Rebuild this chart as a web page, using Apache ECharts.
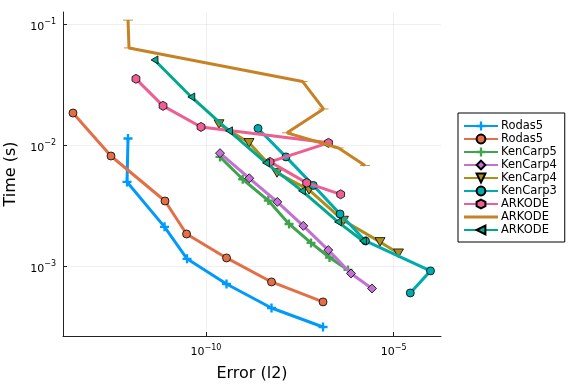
<!DOCTYPE html>
<html><head><meta charset="utf-8">
<script src="https://cdn.jsdelivr.net/npm/echarts@6/dist/echarts.min.js"></script>
<style>html,body{margin:0;padding:0;background:#fff}#c{width:576px;height:384px}</style>
</head><body><div id="c"></div>
<script>
// ---- data (error l2, time s) ----
const seriesNames = ['Rodas5','Rodas5','KenCarp5','KenCarp4','KenCarp4','KenCarp3','ARKODE','ARKODE','ARKODE'];

const rodas5aErr  = [8.36e-13, 7.87e-13, 7.85e-12, 3.12e-11, 3.52e-10, 5.56e-9, 1.31e-7];
const rodas5aTime = [1.14e-2, 5.00e-3, 2.13e-3, 1.16e-3, 7.19e-4, 4.56e-4, 3.18e-4];

const rodas5bErr  = [2.86e-14, 2.94e-13, 8.09e-12, 3.03e-11, 3.52e-10, 5.56e-9, 1.31e-7];
const rodas5bTime = [1.85e-2, 8.18e-3, 3.48e-3, 1.86e-3, 1.18e-3, 7.48e-4, 5.12e-4];

const kencarp5Err  = [2.36e-10, 9.51e-10, 4.57e-9, 1.63e-8, 6.27e-8, 1.95e-7, 6.07e-7];
const kencarp5Time = [8.04e-3, 5.26e-3, 3.51e-3, 2.25e-3, 1.57e-3, 1.19e-3, 9.40e-4];

const kencarp4aErr  = [2.36e-10, 1.42e-9, 7.93e-9, 3.91e-8, 1.81e-7, 7.29e-7, 2.64e-6];
const kencarp4aTime = [8.63e-3, 5.36e-3, 3.42e-3, 2.17e-3, 1.37e-3, 8.79e-4, 6.61e-4];

const kencarp4bErr  = [2.22e-10, 1.40e-9, 7.78e-9, 5.55e-8, 4.60e-7, 4.32e-6, 1.34e-5];
const kencarp4bTime = [1.50e-2, 1.05e-2, 5.93e-3, 4.30e-3, 2.40e-3, 1.60e-3, 1.29e-3];

const kencarp3Err  = [2.43e-9, 1.35e-8, 7.21e-8, 3.72e-7, 1.77e-6, 9.55e-5, 2.77e-5];
const kencarp3Time = [1.38e-2, 8.04e-3, 4.68e-3, 2.72e-3, 1.63e-3, 9.23e-4, 6.07e-4];

const arkodeAErr  = [1.36e-12, 7.16e-12, 7.36e-11, 1.83e-7, 5.07e-9, 4.81e-8, 3.87e-7];
const arkodeATime = [3.54e-2, 2.12e-2, 1.42e-2, 1.05e-2, 7.31e-3, 4.91e-3, 3.95e-3];

const arkodeBErr  = [8.36e-13, 8.89e-13, 3.72e-8, 1.35e-7, 1.44e-8, 3.39e-7, 1.72e-6];
const arkodeBTime = [1.08e-1, 6.37e-2, 3.37e-2, 2.00e-2, 1.27e-2, 9.53e-3, 6.84e-3];

const arkodeCErr  = [4.25e-12, 4.06e-11, 4.10e-10, 3.96e-9, 3.61e-8, 3.28e-7, 1.52e-6];
const arkodeCTime = [5.07e-2, 2.51e-2, 1.32e-2, 7.18e-3, 4.22e-3, 2.34e-3, 1.63e-3];

const xTickValues = [1e-10, 1e-5];
const yTickValues = [1e-3, 1e-2, 1e-1];

const errs  = [rodas5aErr, rodas5bErr, kencarp5Err, kencarp4aErr, kencarp4bErr, kencarp3Err, arkodeAErr, arkodeBErr, arkodeCErr];
const times = [rodas5aTime, rodas5bTime, kencarp5Time, kencarp4aTime, kencarp4bTime, kencarp3Time, arkodeATime, arkodeBTime, arkodeCTime];

// ---- styles ----
const colors = ['#009AFA','#E36F47','#3EA44E','#C371D2','#AC8E18','#00AAAE','#ED5E93','#C68225','#00A98D'];
const PLUS = 'path://M-1.3,-5 H1.3 V-1.3 H5 V1.3 H1.3 V5 H-1.3 V1.3 H-5 V-1.3 H-1.3 Z';
const DIAM = 'path://M0,-5 L5,0 L0,5 L-5,0 Z';
const TRIDOWN = 'path://M-5,-4.3 L5,-4.3 L0,4.3 Z';
const TRILEFT = 'path://M-4.3,0 L4.3,-5 L4.3,5 Z';
const HEX = 'path://M0,-5 L4.33,-2.5 L4.33,2.5 L0,5 L-4.33,2.5 L-4.33,-2.5 Z';
const HLINE = 'path://M-5,-1.5 H5 V1.5 H-5 Z';
const LEGLINE = 'path://M0,0 H34 V3 H0 Z';
const symbols = [PLUS, 'circle', PLUS, DIAM, TRIDOWN, 'circle', HEX, HLINE, TRILEFT];
const symSizes = [9, 8, 9, 9, 10, 8, 9, [10,3], 8];
const borders = [0, 0.8, 0, 0.8, 0.8, 0.8, 0.8, 0, 0.8];

const FONT = 'DejaVu Sans';
function supFmt(v) {
  const e = Math.round(Math.log10(v));
  return '{b|10}{s|' + (e < 0 ? '\u2212' : '') + Math.abs(e) + '}';
}
const rich = {
  b: {fontSize: 11, fontFamily: FONT, color: '#000', padding: [5, 0, 0, 0]},
  s: {fontSize: 8, fontFamily: FONT, color: '#000', padding: [0, 0, 5, 0]}
};

const series = seriesNames.map((nm, i) => ({
  name: nm + '#' + i,
  type: 'line',
  data: errs[i].map((e, k) => [e, times[i][k]]),
  symbol: symbols[i],
  symbolSize: symSizes[i],
  symbolKeepAspect: true,
  showAllSymbol: true,
  z: 2 + i,
  lineStyle: {color: colors[i], width: 3},
  itemStyle: {color: colors[i], borderColor: '#000', borderWidth: borders[i]},
  emphasis: {disabled: true},
  animation: false
}));

const legendData = seriesNames.map((nm, i) =>
  symbols[i] === HLINE ? {name: nm + '#' + i, icon: LEGLINE} : {name: nm + '#' + i});

const chart = echarts.init(document.getElementById('c'), null, {renderer: 'canvas'});
chart.setOption({
  animation: false,
  backgroundColor: '#fff',
  grid: {left: 63, right: 135, top: 12, bottom: 48, containLabel: false, outerBoundsMode: 'none'},
  xAxis: {
    type: 'log', logBase: 10,
    min: 1.55e-14, max: 1.82e-4,
    name: 'Error (l2)', nameLocation: 'middle', nameGap: 30,
    nameTextStyle: {fontSize: 16, fontFamily: FONT, color: '#000'},
    axisLine: {show: true, onZero: false, lineStyle: {color: '#222', width: 1}},
    axisTick: {show: true, inside: true, length: 4, customValues: xTickValues, lineStyle: {color: '#222'}},
    axisLabel: {customValues: xTickValues, formatter: supFmt, rich: rich, margin: 6},
    splitLine: {show: true, lineStyle: {color: 'rgba(0,0,0,0.1)', width: 0.6}},
    minorTick: {show: false}
  },
  yAxis: {
    type: 'log', logBase: 10,
    min: 2.68e-4, max: 0.126,
    name: 'Time (s)', nameLocation: 'middle', nameGap: 42,
    nameTextStyle: {fontSize: 16, fontFamily: FONT, color: '#000'},
    axisLine: {show: true, onZero: false, lineStyle: {color: '#222', width: 1}},
    axisTick: {show: true, inside: true, length: 4, customValues: yTickValues, lineStyle: {color: '#222'}},
    axisLabel: {customValues: yTickValues, formatter: supFmt, rich: rich, margin: 7},
    splitLine: {show: true, lineStyle: {color: 'rgba(0,0,0,0.1)', width: 0.6}},
    minorTick: {show: false}
  },
  legend: {
    orient: 'vertical',
    left: 458, top: 113,
    data: legendData,
    itemWidth: 34, itemHeight: 11, itemGap: 1,
    padding: [7, 8, 6, 5],
    borderColor: '#000', borderWidth: 1, borderRadius: 0,
    backgroundColor: '#fff',
    textStyle: {fontSize: 11.5, fontFamily: FONT, color: '#000', padding: [0, 0, 0, -2]},
    formatter: n => n.replace(/#\d+$/, ''),
    selectedMode: false
  },
  series: series
});
</script></body></html>
